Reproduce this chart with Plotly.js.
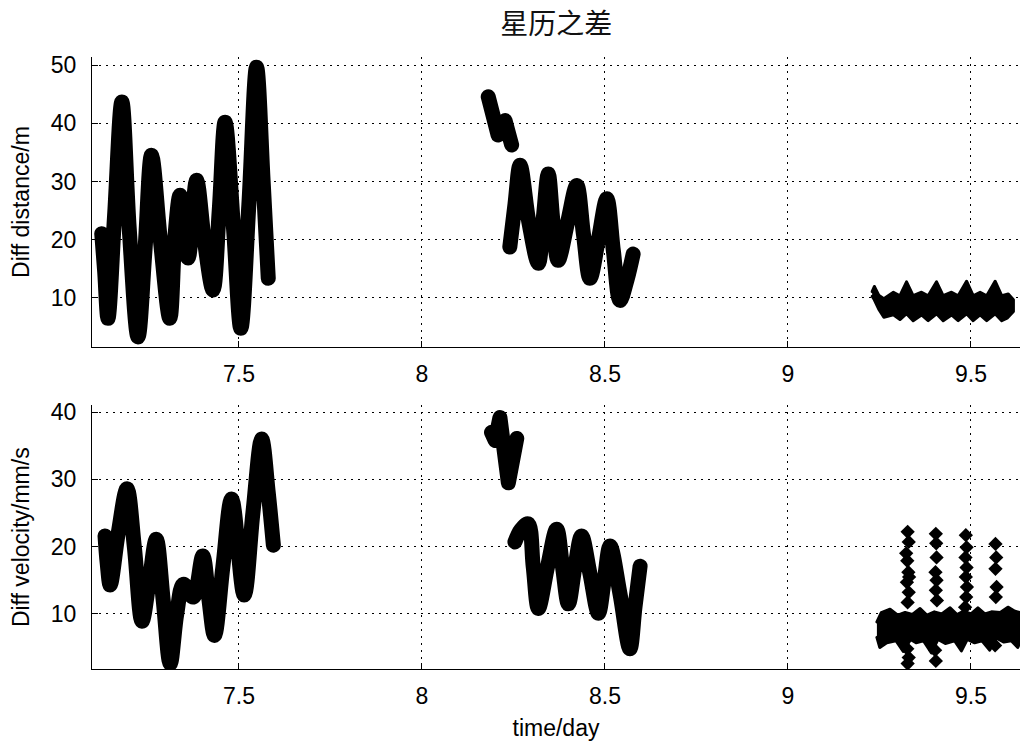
<!DOCTYPE html>
<html>
<head>
<meta charset="utf-8">
<script src="https://cdn.plot.ly/plotly-3.0.1.min.js"></script>
<style>html,body{margin:0;padding:0;background:#fff;}</style>
</head>
<body>
<div id="chart" style="width:1020px;height:741px;"></div>
<script>
// ---- tick labels ----
const xTickVals = [7.5, 8, 8.5, 9, 9.5];
const xTickText = ['7.5', '8', '8.5', '9', '9.5'];
const yTopTicks = [10, 20, 30, 40, 50];
const yBotTicks = [10, 20, 30, 40];

// ---- Diff distance / m (top) ----
const tDistA = [7.125, 7.133, 7.142, 7.160, 7.180, 7.200, 7.224, 7.243, 7.261, 7.285, 7.311, 7.325, 7.339, 7.361, 7.384, 7.405, 7.429, 7.446, 7.462, 7.485, 7.505, 7.527, 7.548, 7.566, 7.580];
const vDistA = [21.0, 14.5, 6.4, 24.0, 43.7, 22.0, 3.2, 18.0, 34.5, 20.0, 6.4, 20.5, 27.6, 16.8, 30.2, 20.0, 11.3, 25.0, 40.2, 22.0, 4.7, 26.0, 49.7, 30.0, 13.3];

const tDistB = [8.181, 8.195, 8.208, 8.227, 8.245];
const vDistB = [44.6, 41.5, 38.0, 40.5, 36.3];

const tDistC = [8.240, 8.254, 8.268, 8.292, 8.318, 8.332, 8.345, 8.358, 8.372, 8.398, 8.423, 8.441, 8.459, 8.482, 8.505, 8.523, 8.541, 8.560, 8.577];
const vDistC = [18.7, 26.0, 32.8, 23.0, 15.9, 24.0, 31.3, 23.0, 16.4, 23.0, 29.3, 21.0, 13.3, 20.0, 27.0, 18.0, 9.5, 13.0, 17.5];

// band 9.23 - 9.62 : upper edge then lower edge
const tDistDUp = [9.230, 9.236, 9.248, 9.262, 9.288, 9.306, 9.324, 9.342, 9.365, 9.383, 9.406, 9.424, 9.447, 9.465, 9.488, 9.506, 9.525, 9.543, 9.566, 9.584, 9.602, 9.616];
const vDistDUp = [11.0, 11.9, 10.4, 9.8, 10.9, 10.3, 12.7, 10.3, 10.9, 10.3, 12.7, 10.3, 10.9, 10.3, 12.8, 10.3, 10.9, 10.3, 12.8, 10.3, 10.6, 9.6];
const tDistDLo = [9.616, 9.600, 9.584, 9.566, 9.543, 9.525, 9.506, 9.488, 9.465, 9.447, 9.424, 9.406, 9.383, 9.365, 9.342, 9.324, 9.306, 9.288, 9.262, 9.248, 9.236, 9.230];
const vDistDLo = [7.6, 6.5, 6.0, 7.2, 6.0, 7.0, 6.0, 7.2, 6.0, 7.0, 6.0, 7.2, 6.0, 7.0, 6.0, 7.2, 6.2, 7.0, 6.6, 8.0, 9.6, 10.2];

// ---- Diff velocity / mm/s (bottom) ----
const tVelA = [7.134, 7.140, 7.148, 7.170, 7.194, 7.214, 7.235, 7.255, 7.274, 7.293, 7.312, 7.330, 7.348, 7.375, 7.401, 7.417, 7.433, 7.456, 7.480, 7.514, 7.538, 7.562, 7.580, 7.594];
const vVelA = [21.6, 17.5, 14.3, 22.0, 28.6, 20.0, 8.9, 15.0, 21.1, 12.0, 2.6, 10.0, 14.4, 12.5, 18.6, 12.5, 6.8, 17.0, 27.1, 12.8, 25.0, 36.0, 28.0, 20.2];

const tVelB = [8.190, 8.200, 8.213, 8.236, 8.259];
const vVelB = [37.0, 35.8, 39.2, 29.5, 36.1];

const tVelC = [8.254, 8.270, 8.290, 8.304, 8.318, 8.343, 8.368, 8.384, 8.400, 8.418, 8.436, 8.459, 8.482, 8.498, 8.514, 8.541, 8.568, 8.582, 8.596];
const vVelC = [20.7, 22.5, 23.4, 17.0, 10.8, 17.0, 22.6, 17.0, 11.5, 17.0, 21.6, 16.0, 10.1, 15.0, 20.1, 13.0, 4.8, 11.0, 17.1];

// band 9.24 - 9.63 : upper edge then lower edge
const tVelDUp = [9.243, 9.255, 9.279, 9.300, 9.320, 9.340, 9.361, 9.380, 9.400, 9.420, 9.443, 9.462, 9.480, 9.500, 9.519, 9.538, 9.556, 9.580, 9.601, 9.620, 9.634];
const vVelDUp = [8.8, 10.2, 10.7, 9.8, 10.2, 9.9, 10.8, 9.8, 10.3, 10.0, 10.9, 9.9, 10.4, 10.0, 10.9, 10.0, 10.3, 10.2, 11.0, 10.4, 10.2];
const tVelDLo = [9.634, 9.628, 9.610, 9.590, 9.570, 9.551, 9.530, 9.510, 9.490, 9.474, 9.455, 9.430, 9.410, 9.392, 9.370, 9.350, 9.335, 9.315, 9.295, 9.270, 9.251, 9.243];
const vVelDLo = [5.8, 5.0, 6.0, 5.8, 6.4, 4.6, 6.0, 5.7, 6.2, 4.5, 6.0, 5.6, 6.2, 4.2, 6.0, 5.7, 6.2, 4.4, 6.0, 5.7, 5.0, 6.5];

const tVelSpikes = [9.327, 9.330, 9.326, 9.329, 9.325, 9.330, 9.327, 9.326, 9.330, 9.327, 9.323, 9.331,
                    9.404, 9.406, 9.403, 9.406, 9.404, 9.407, 9.402, 9.404, 9.405,
                    9.486, 9.488, 9.485, 9.488, 9.486, 9.489, 9.487, 9.484,
                    9.567, 9.569, 9.567, 9.570, 9.568, 9.566];
const vVelSpikes = [22.2, 20.7, 17.9, 16.2, 14.7, 13.2, 11.7, 4.8, 3.5, 2.6, 19.0, 15.5,
                    21.9, 18.4, 16.2, 15.0, 13.5, 12.0, 4.6, 3.0, 20.5,
                    21.7, 19.9, 18.4, 16.9, 15.5, 14.0, 12.5, 11.0,
                    20.4, 18.4, 16.7, 14.0, 12.5, 5.3];

const BLACK = '#000000';
function band(t, v, xa, ya, w, shape) {
  return {x: t, y: v, xaxis: xa, yaxis: ya, type: 'scatter', mode: 'lines',
          line: {color: BLACK, width: w, shape: shape || 'linear', smoothing: 1}, hoverinfo: 'skip'};
}
function blob(tUp, vUp, tLo, vLo, xa, ya) {
  return {x: tUp.concat(tLo), y: vUp.concat(vLo), xaxis: xa, yaxis: ya, type: 'scatter',
          mode: 'lines', fill: 'toself', fillcolor: BLACK,
          line: {color: BLACK, width: 3}, hoverinfo: 'skip'};
}

const traces = [
  band(tDistA, vDistA, 'x', 'y', 15, 'spline'),
  band(tDistB, vDistB, 'x', 'y', 15),
  band(tDistC, vDistC, 'x', 'y', 15, 'spline'),
  blob(tDistDUp, vDistDUp, tDistDLo, vDistDLo, 'x', 'y'),
  band(tVelA, vVelA, 'x2', 'y2', 15, 'spline'),
  band(tVelB, vVelB, 'x2', 'y2', 15),
  band(tVelC, vVelC, 'x2', 'y2', 15, 'spline'),
  blob(tVelDUp, vVelDUp, tVelDLo, vVelDLo, 'x2', 'y2'),
  {x: tVelSpikes, y: vVelSpikes, xaxis: 'x2', yaxis: 'y2', type: 'scatter', mode: 'markers',
   marker: {symbol: 'diamond', size: 11, color: BLACK}, hoverinfo: 'skip'}
];

const FONT = 'Liberation Sans, Arial, sans-serif';
const xCommon = {
  range: [7.0984, 9.634], tickmode: 'array', tickvals: xTickVals, ticktext: xTickText,
  ticks: 'inside', ticklen: 6, tickcolor: BLACK, tickwidth: 1,
  showline: true, linecolor: BLACK, linewidth: 1, mirror: false,
  showgrid: true, gridcolor: BLACK, gridwidth: 1, griddash: '1.5px,5.5px',
  zeroline: false, ticklabelstandoff: 6,
  tickfont: {family: FONT, size: 23, color: BLACK}
};
function yCommon(ticks, range, dom) {
  return {
    domain: dom, range: range, tickmode: 'array', tickvals: ticks, ticktext: ticks.map(String),
    ticks: 'inside', ticklen: 6, tickcolor: BLACK, tickwidth: 1,
    showline: true, linecolor: BLACK, linewidth: 1, mirror: false,
    showgrid: true, gridcolor: BLACK, gridwidth: 1, griddash: '1.5px,5.5px',
    zeroline: false, ticklabelstandoff: 10,
    tickfont: {family: FONT, size: 23, color: BLACK}
  };
}

const layout = {
  width: 1020, height: 741,
  margin: {l: 92, r: 0, t: 57, b: 72, pad: 0},
  paper_bgcolor: '#ffffff', plot_bgcolor: '#ffffff',
  showlegend: false,
  font: {family: FONT, size: 23, color: BLACK},
  title: {text: '星历之差', font: {family: 'Noto Sans CJK SC', size: 28, color: '#111'},
          x: 0.5454, xref: 'container', xanchor: 'center', y: 0.9676, yref: 'container', yanchor: 'middle'},
  xaxis: Object.assign({}, xCommon, {anchor: 'y', domain: [0, 1]}),
  xaxis2: Object.assign({}, xCommon, {anchor: 'y2', domain: [0, 1],
    title: {text: 'time/day', font: {family: FONT, size: 23, color: BLACK}, standoff: 12}}),
  yaxis: Object.assign(yCommon(yTopTicks, [1.45, 51.45], [0.526, 1]), {anchor: 'x',
    title: {text: 'Diff distance/m', font: {family: FONT, size: 23, color: BLACK}, standoff: 14}}),
  yaxis2: Object.assign(yCommon(yBotTicks, [1.8, 41.0], [0, 0.4306]), {anchor: 'x2',
    title: {text: 'Diff velocity/mm/s', font: {family: FONT, size: 23, color: BLACK}, standoff: 14}})
};

Plotly.newPlot('chart', traces, layout, {staticPlot: true, displayModeBar: false}).then(function () {
  document.querySelectorAll('.scatterlayer .js-line').forEach(function (p) {
    p.style.strokeLinejoin = 'round';
    p.style.strokeLinecap = 'round';
  });
});
</script>
</body>
</html>
